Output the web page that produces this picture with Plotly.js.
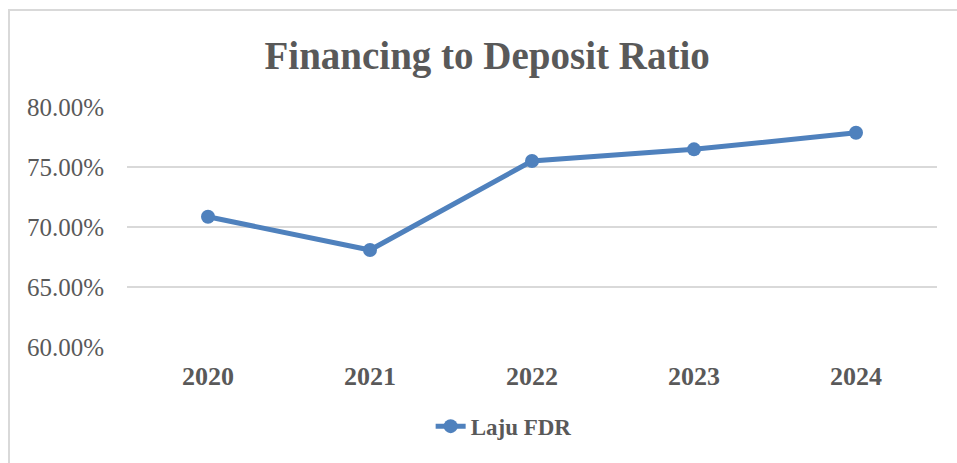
<!DOCTYPE html>
<html>
<head>
<meta charset="utf-8">
<script src="https://cdn.plot.ly/plotly-3.0.1.min.js"></script>
<style>
  html, body { margin: 0; padding: 0; background: #ffffff; }
  #wrap { position: relative; width: 957px; height: 463px; overflow: hidden; }
  #chart { position: absolute; left: 0; top: 0; width: 957px; height: 463px; }
  #frame { position: absolute; left: 8px; top: 9px; width: 980px; height: 500px;
           border-top: 2px solid #d9d9d9; border-left: 2px solid #d9d9d9; pointer-events: none; }
</style>
</head>
<body>
<div id="wrap">
  <div id="chart"></div>
  <div id="frame"></div>
</div>
<script>
const years = ['2020', '2021', '2022', '2023', '2024'];
const fdrValues = [70.85, 68.08, 75.50, 76.47, 77.85];
const seriesName = 'Laju FDR';
const yTicks = [60, 65, 70, 75, 80];
const yTickLabels = ['60.00%', '65.00%', '70.00%', '75.00%', '80.00%'];

const FONT = '"Liberation Serif", "DejaVu Serif", serif';
const GRAY = '#595959';

const trace = {
  x: years,
  y: fdrValues,
  name: seriesName,
  type: 'scatter',
  mode: 'lines+markers',
  line: { color: '#4F81BD', width: 5 },
  marker: { color: '#4F81BD', size: 14 },
  showlegend: true
};

const layout = {
  width: 957,
  height: 463,
  margin: { l: 127, r: 20, t: 107, b: 116 },
  paper_bgcolor: '#ffffff',
  plot_bgcolor: '#ffffff',
  title: {
    text: '<b>Financing to Deposit Ratio</b>',
    font: { family: FONT, size: 39, color: GRAY },
    x: 0.509, xanchor: 'center',
    y: 0.88, yanchor: 'middle', yref: 'container'
  },
  xaxis: {
    type: 'category',
    range: [-0.5, 4.5],
    showgrid: false,
    zeroline: false,
    showline: false,
    ticks: '',
    tickfont: { family: FONT, size: 26, color: GRAY, weight: 'bold' },
    ticklabelstandoff: 11
  },
  yaxis: {
    range: [60, 80],
    tickmode: 'array',
    tickvals: yTicks,
    ticktext: yTickLabels,
    showgrid: true,
    gridcolor: '#d9d9d9',
    gridwidth: 1.5,
    zeroline: false,
    showline: false,
    ticks: '',
    tickfont: { family: FONT, size: 25, color: GRAY },
    ticklabelstandoff: 22
  },
  showlegend: true,
  legend: {
    orientation: 'h',
    x: 0.465, xanchor: 'center',
    y: -0.33, yanchor: 'middle',
    font: { family: FONT, size: 23, color: GRAY, weight: 'bold' },
    bgcolor: 'rgba(0,0,0,0)'
  }
};

Plotly.newPlot('chart', [trace], layout, { displayModeBar: false, staticPlot: true });
</script>
</body>
</html>
